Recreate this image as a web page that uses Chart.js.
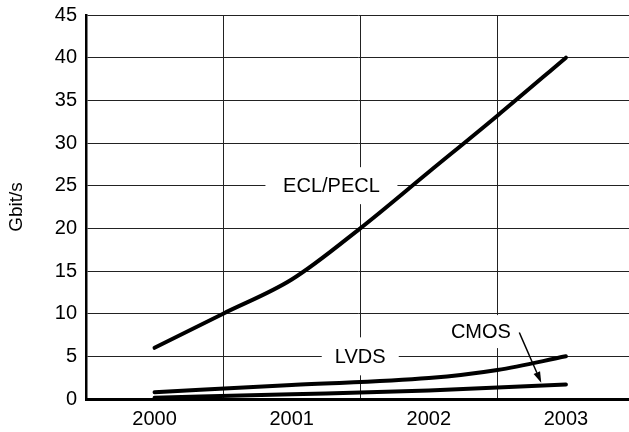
<!DOCTYPE html>
<html>
<head>
<meta charset="utf-8">
<script src="https://cdn.jsdelivr.net/npm/chart.js@4.4.1/dist/chart.umd.min.js"></script>
<style>
  html, body { margin: 0; padding: 0; background: #fff; }
  #wrap { width: 629px; height: 432px; }
</style>
</head>
<body>
<div id="wrap"><canvas id="chart-canvas" width="629" height="432"></canvas></div>
<script>
// tick labels
const yearLabels = ['2000', '2001', '2002', '2003'];
const yTicks = [0, 5, 10, 15, 20, 25, 30, 35, 40, 45];

// series
const eclYears = [2000, 2000.5, 2001, 2001.5, 2002, 2002.5, 2003];
const eclValues = [6, 10, 14, 20, 26.6, 33.2, 40];
const lvdsYears = [2000, 2001, 2002, 2002.5, 2003];
const lvdsValues = [0.8, 1.65, 2.45, 3.4, 5.0];
const cmosYears = [2000, 2001, 2002, 2003];
const cmosValues = [0.15, 0.55, 1.0, 1.7];

// in-plot labels, placed in data coordinates
const seriesLabels = [
  { text: 'ECL/PECL', x: 2001.29, y: 25, w: 132, h: 37 },
  { text: 'LVDS', x: 2001.5, y: 5, w: 77, h: 38 },
  { text: 'CMOS', x: 2002.38, y: 7.9, w: 72, h: 33 }
];
const cmosArrow = { x1: 2002.66, y1: 7.8, x2: 2002.82, y2: 1.9 };

const FONT = "'Liberation Sans', Arial, Helvetica, sans-serif";

function pts(xs, ys) {
  return xs.map((x, i) => ({ x: x, y: ys[i] }));
}

const labelPlugin = {
  id: 'seriesLabels',
  beforeDatasetsDraw(chart) {
    const ctx = chart.ctx;
    const xs = chart.scales.x, ys = chart.scales.y;
    ctx.save();
    ctx.font = '20px ' + FONT;
    ctx.textAlign = 'center';
    ctx.textBaseline = 'middle';
    seriesLabels.forEach(l => {
      const px = xs.getPixelForValue(l.x);
      const py = ys.getPixelForValue(l.y);
      ctx.fillStyle = '#fff';
      ctx.fillRect(px - l.w / 2, py - l.h / 2, l.w, l.h);
      ctx.fillStyle = '#000';
      ctx.fillText(l.text, px, py + 1);
    });
    ctx.restore();
  },
  afterDatasetsDraw(chart) {
    const ctx = chart.ctx;
    const xs = chart.scales.x, ys = chart.scales.y;
    const x1 = xs.getPixelForValue(cmosArrow.x1), y1 = ys.getPixelForValue(cmosArrow.y1);
    const x2 = xs.getPixelForValue(cmosArrow.x2), y2 = ys.getPixelForValue(cmosArrow.y2);
    const ang = Math.atan2(y2 - y1, x2 - x1);
    const len = 11, half = 3.5;
    ctx.save();
    ctx.strokeStyle = '#000';
    ctx.fillStyle = '#000';
    ctx.lineWidth = 1.5;
    ctx.beginPath();
    ctx.moveTo(x1, y1);
    ctx.lineTo(x2 - len * Math.cos(ang), y2 - len * Math.sin(ang));
    ctx.stroke();
    ctx.beginPath();
    ctx.moveTo(x2, y2);
    ctx.lineTo(x2 - len * Math.cos(ang) + half * Math.sin(ang), y2 - len * Math.sin(ang) - half * Math.cos(ang));
    ctx.lineTo(x2 - len * Math.cos(ang) - half * Math.sin(ang), y2 - len * Math.sin(ang) + half * Math.cos(ang));
    ctx.closePath();
    ctx.fill();
    ctx.restore();
  }
};

const lineStyle = {
  borderColor: '#000',
  borderWidth: 4,
  borderCapStyle: 'round',
  pointRadius: 0,
  fill: false,
  cubicInterpolationMode: 'monotone'
};

const ctx = document.getElementById('chart-canvas').getContext('2d');
new Chart(ctx, {
  type: 'line',
  data: {
    datasets: [
      Object.assign({ label: 'ECL/PECL', data: pts(eclYears, eclValues) }, lineStyle),
      Object.assign({ label: 'LVDS', data: pts(lvdsYears, lvdsValues) }, lineStyle),
      Object.assign({ label: 'CMOS', data: pts(cmosYears, cmosValues) }, lineStyle)
    ]
  },
  options: {
    responsive: false,
    animation: false,
    layout: { padding: { top: 15, right: 0, left: 0, bottom: 0 } },
    plugins: {
      legend: { display: false },
      tooltip: { enabled: false }
    },
    scales: {
      x: {
        type: 'linear',
        min: 1999.5,
        max: 2003.46,
        afterBuildTicks(scale) {
          const t = [];
          yearLabels.forEach((y, i) => {
            t.push({ value: +y });
            if (i < yearLabels.length - 1) t.push({ value: +y + 0.5 });
          });
          scale.ticks = t;
        },
        afterFit(scale) {
          scale.height = 33;
          scale.paddingLeft = 0;
          scale.paddingRight = 0;
        },
        ticks: {
          autoSkip: false,
          maxRotation: 0,
          padding: 8,
          color: '#000',
          font: { family: FONT, size: 20 },
          callback: v => (Number.isInteger(v) ? yearLabels[yearLabels.indexOf(String(v))] : '')
        },
        grid: {
          drawTicks: false,
          lineWidth: 1,
          color: c => (c.tick && !Number.isInteger(c.tick.value) ? '#222' : 'rgba(0,0,0,0)')
        },
        border: { display: true, color: '#000', width: 3 }
      },
      y: {
        min: 0,
        max: 45,
        afterBuildTicks(scale) { scale.ticks = yTicks.map(v => ({ value: v })); },
        afterFit(scale) {
          scale.width = 86;
          scale.paddingTop = 0;
          scale.paddingBottom = 0;
        },
        ticks: {
          padding: 9,
          color: '#000',
          font: { family: FONT, size: 20 }
        },
        grid: { drawTicks: false, color: '#222', lineWidth: 1 },
        border: { display: true, color: '#000', width: 2.5 },
        title: {
          display: true,
          text: 'Gbit/s',
          color: '#000',
          font: { family: FONT, size: 19 },
          padding: { top: 5, bottom: 4 }
        }
      }
    }
  },
  plugins: [labelPlugin]
});
</script>
</body>
</html>
